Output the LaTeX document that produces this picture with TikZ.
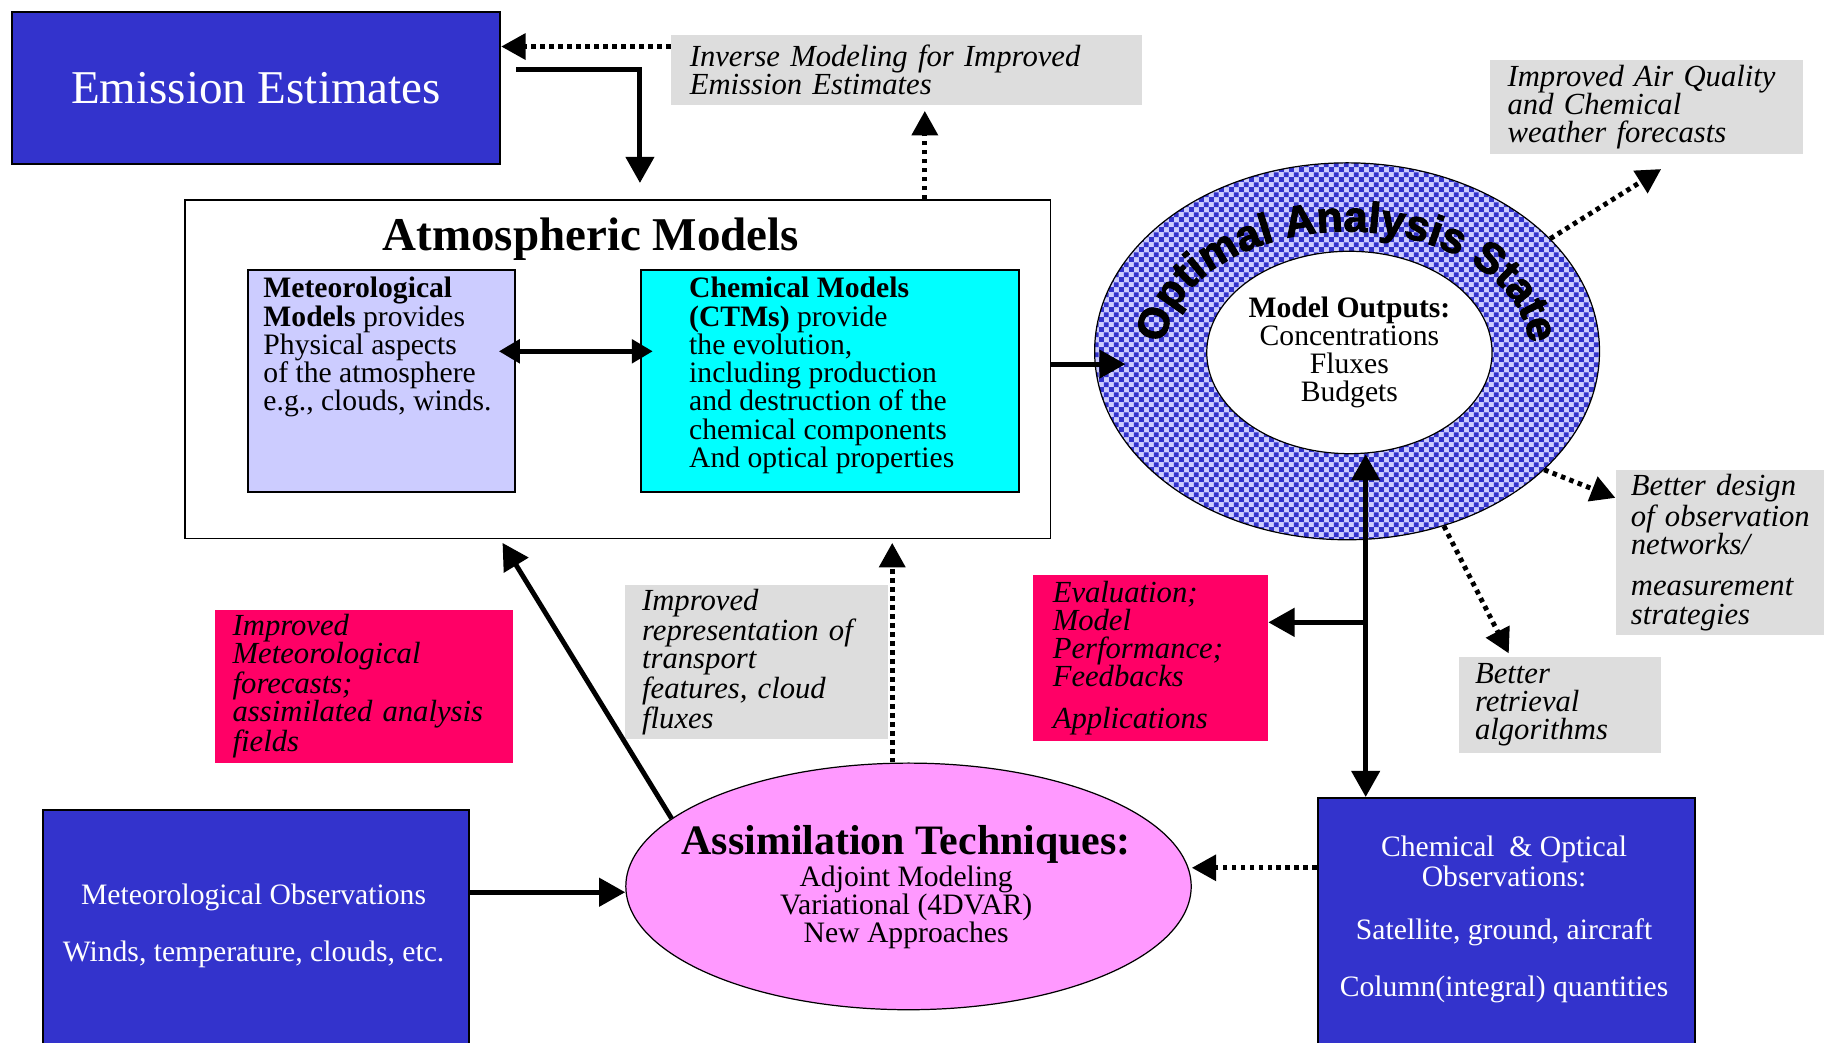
\documentclass[tikz,border=0pt]{standalone}
\usepackage{fontspec}
\setmainfont{Liberation Serif}
\newfontfamily\ringfont{Liberation Sans}[BoldFeatures={FakeBold=2.5}]
\usetikzlibrary{arrows.meta,shapes.geometric,patterns.meta,decorations.text}

\definecolor{obsblue}{HTML}{3333CC}
\definecolor{notegray}{HTML}{DDDDDD}
\definecolor{hotpink}{HTML}{FF0066}
\definecolor{metlav}{HTML}{CCCCFF}
\definecolor{chemcyan}{HTML}{00FFFF}
\definecolor{assimpink}{HTML}{FF99FF}

\tikzdeclarepattern{
  name=ringcheck,
  type=uncolored,
  bounding box={(0pt,0pt) and (4.8pt,4.8pt)},
  tile size={(4.8pt,4.8pt)},
  code={
    \fill (0pt,0pt) rectangle (2.4pt,2.4pt);
    \fill (2.4pt,2.4pt) rectangle (4.8pt,4.8pt);
  }
}

\tikzset{
  txt/.style={font=\fontsize{14.5}{13.8}\selectfont},
  note/.style={font=\fontsize{15}{13.7}\selectfont\itshape, align=left, inner ysep=0pt},
  graynote/.style={note, fill=notegray},
  pinknote/.style={note, fill=hotpink},
  bluebox/.style={draw, line width=1pt, fill=obsblue, text=white, inner sep=0pt},
  modelbox/.style={draw, line width=1pt, inner sep=0pt},
  solidarrow/.style={line width=2.4pt, -{Triangle[length=4.5mm,width=4.8mm]}},
  soliddouble/.style={line width=2.4pt, {Triangle[length=4.5mm,width=4.8mm]}-{Triangle[length=4.5mm,width=4.8mm]}},
  bigdouble/.style={line width=2.3pt, {Triangle[length=3.6mm,width=4mm]}-{Triangle[length=3.6mm,width=4mm]}},
  dotarrow/.style={line width=2.4pt, dash pattern=on 2.2pt off 2.2pt, -{Triangle[length=4.2mm,width=4.4mm]}},
}

\begin{document}
\begin{tikzpicture}[x=0.2mm, y=-0.2mm]
\useasboundingbox (0,0) rectangle (1568,896);
\clip (0,0) rectangle (1568,896);
\fill[white] (0,0) rectangle (1568,896);

\node[bluebox, minimum width=84mm, minimum height=26.2mm, font=\fontsize{23}{23}\selectfont] (emis) at (220,75.5) {Emission Estimates};
\node[graynote, minimum height=12mm, inner xsep=3.2mm, text width=74.6mm] (inverse) at (779.5,60) {Inverse Modeling for Improved\\Emission Estimates};

\node[modelbox, fill=white, line width=0.8pt, minimum width=148.8mm, minimum height=58.2mm] (atm) at (531,317.5) {};
\node[font=\fontsize{23}{23}\selectfont\bfseries] (atmtitle) at (508,206) {Atmospheric Models};
\node[modelbox, fill=metlav, minimum width=46mm, minimum height=38.2mm] (metmod) at (328,327.5) {};
\node[txt, align=left, inner sep=0pt, anchor=north west] (metmodtxt) at ([shift={(2.8mm,-1.4mm)}]metmod.north west) {\textbf{Meteorological}\\\textbf{Models} provides\\Physical aspects\\of the atmosphere\\e.g., clouds, winds.};
\node[modelbox, fill=chemcyan, minimum width=65mm, minimum height=38.2mm] (chemmod) at (713.5,327.5) {};
\node[txt, align=left, inner sep=0pt, anchor=north west] (chemmodtxt) at ([shift={(8.4mm,-1.4mm)}]chemmod.north west) {\textbf{Chemical Models}\\\textbf{(CTMs)} provide\\the evolution,\\including production\\and destruction of the\\chemical components\\And optical properties};

\node[ellipse, draw, line width=0.6pt, preaction={fill=metlav}, pattern=ringcheck, pattern color=obsblue, minimum width=86.8mm, minimum height=64.8mm, inner sep=0pt] (ring) at (1158,302) {};
\path[decorate, decoration={text along path, text align=center, text={|\ringfont\bfseries\fontsize{21}{21}\selectfont|Optimal Analysis State}}] ([xshift=-31.4mm]ring.center) arc[start angle=180, end angle=0, x radius=31.4mm, y radius=20.6mm];
\node[ellipse, draw, fill=white, line width=0.6pt, minimum width=48mm, minimum height=34.8mm, inner sep=0pt, align=center, txt] (outputs) at (1160,303) {\textbf{Model Outputs:}\\Concentrations\\Fluxes\\Budgets};

\node[graynote, minimum height=16mm, inner xsep=3mm, text width=47.8mm] (airq) at (1415.5,92) {Improved Air Quality\\and Chemical\\weather forecasts};
\node[graynote, minimum height=28.4mm, inner xsep=2.6mm, text width=37mm] (design) at (1494.5,475) {Better design\\of observation\\networks/\\[2.4mm]measurement\\strategies};
\node[graynote, minimum height=16.4mm, inner xsep=2.8mm, text width=29.2mm] (retrieval) at (1341,606) {Better\\retrieval\\algorithms};
\node[pinknote, minimum height=28.6mm, inner xsep=3.4mm, text width=33.6mm] (eval) at (989,565.5) {Evaluation;\\Model\\Performance;\\Feedbacks\\[2.4mm]Applications};
\node[pinknote, minimum height=26.4mm, inner xsep=3mm, text width=45.2mm] (metfc) at (313,590) {Improved\\Meteorological\\forecasts;\\assimilated analysis\\fields};
\node[graynote, minimum height=26.4mm, inner xsep=3mm, text width=39.2mm] (transp) at (650,569) {Improved\\representation of\\transport\\features, cloud\\fluxes};

\node[ellipse, draw, line width=0.6pt, fill=assimpink, minimum width=97.2mm, minimum height=42.4mm] (assim) at (781,762) {};
\node[txt, align=center] (assimtxt) at (779,763) {{\fontsize{20.5}{20.5}\selectfont\bfseries Assimilation Techniques:}\\Adjoint Modeling\\Variational (4DVAR)\\New Approaches};
\node[bluebox, minimum width=73.2mm, minimum height=41.8mm] (metobs) at (220,800.5) {};
\node[txt, text=white, align=center] (metobstxt) at (218,796) {Meteorological Observations\\[4.9mm]Winds, temperature, clouds, etc.};
\node[bluebox, minimum width=64.8mm, minimum height=43.8mm] (chemobs) at (1295,795.5) {};
\node[txt, text=white, align=center] (chemobstxt) at (1293,790) {Chemical\ \ \& Optical\\[0.3mm]Observations:\\[4.3mm]Satellite, ground, aircraft\\[4.9mm]Column(integral) quantities};

\coordinate (invin) at ([yshift=4mm]inverse.west);
\coordinate (emisout) at ([xshift=2.6mm,yshift=3.1mm]emis.east);
\coordinate (atmup) at ([xshift=52.8mm]atm.north);
\coordinate (metmid) at ([yshift=5.1mm]metmod.east);
\coordinate (atmout) at ([yshift=0.9mm]atm.east);
\coordinate (vtop) at ([xshift=2.8mm]outputs.south);
\coordinate (evalin) at ([yshift=6.1mm]eval.east);
\coordinate (assimup) at ([xshift=-2.8mm]assim.north);
\coordinate (metobsout) at ([yshift=6.7mm]metobs.east);
\coordinate (chemobsout) at ([yshift=9.9mm]chemobs.west);

\draw[dotarrow] (invin) -- (invin -| emis.east);
\draw[solidarrow, shorten >=2.8mm] (emisout) -| (chemmod.west |- atm.north);
\draw[dotarrow, shorten >=1mm] (atmup) -- (atmup |- inverse.south);
\draw[bigdouble, shorten <=-3mm, shorten >=-2.2mm] (metmid) -- (metmid -| chemmod.west);
\draw[solidarrow, shorten >=-5.4mm] (atmout) -- (atmout -| ring.west);
\draw[dotarrow] (ring.29) -- ([xshift=2.5mm,yshift=-2.6mm]airq.south);
\draw[dotarrow] (ring.-31) -- ([yshift=9.4mm]design.west);
\draw[dotarrow] (ring.-61) -- ([xshift=-8.8mm,yshift=0.6mm]retrieval.north);
\draw[soliddouble] (vtop) -- (vtop |- chemobs.north);
\draw[solidarrow] (vtop |- evalin) -- (evalin);
\draw[solidarrow] (assim.164) -- ([xshift=-19.8mm,yshift=-0.6mm]atm.south);
\draw[dotarrow, shorten >=0.6mm] (assimup) -- (assimup |- atm.south);
\draw[solidarrow] (metobsout) -- (metobsout -| assim.west);
\draw[dotarrow] (chemobsout) -- (chemobsout -| assim.east);
\end{tikzpicture}
\end{document}
